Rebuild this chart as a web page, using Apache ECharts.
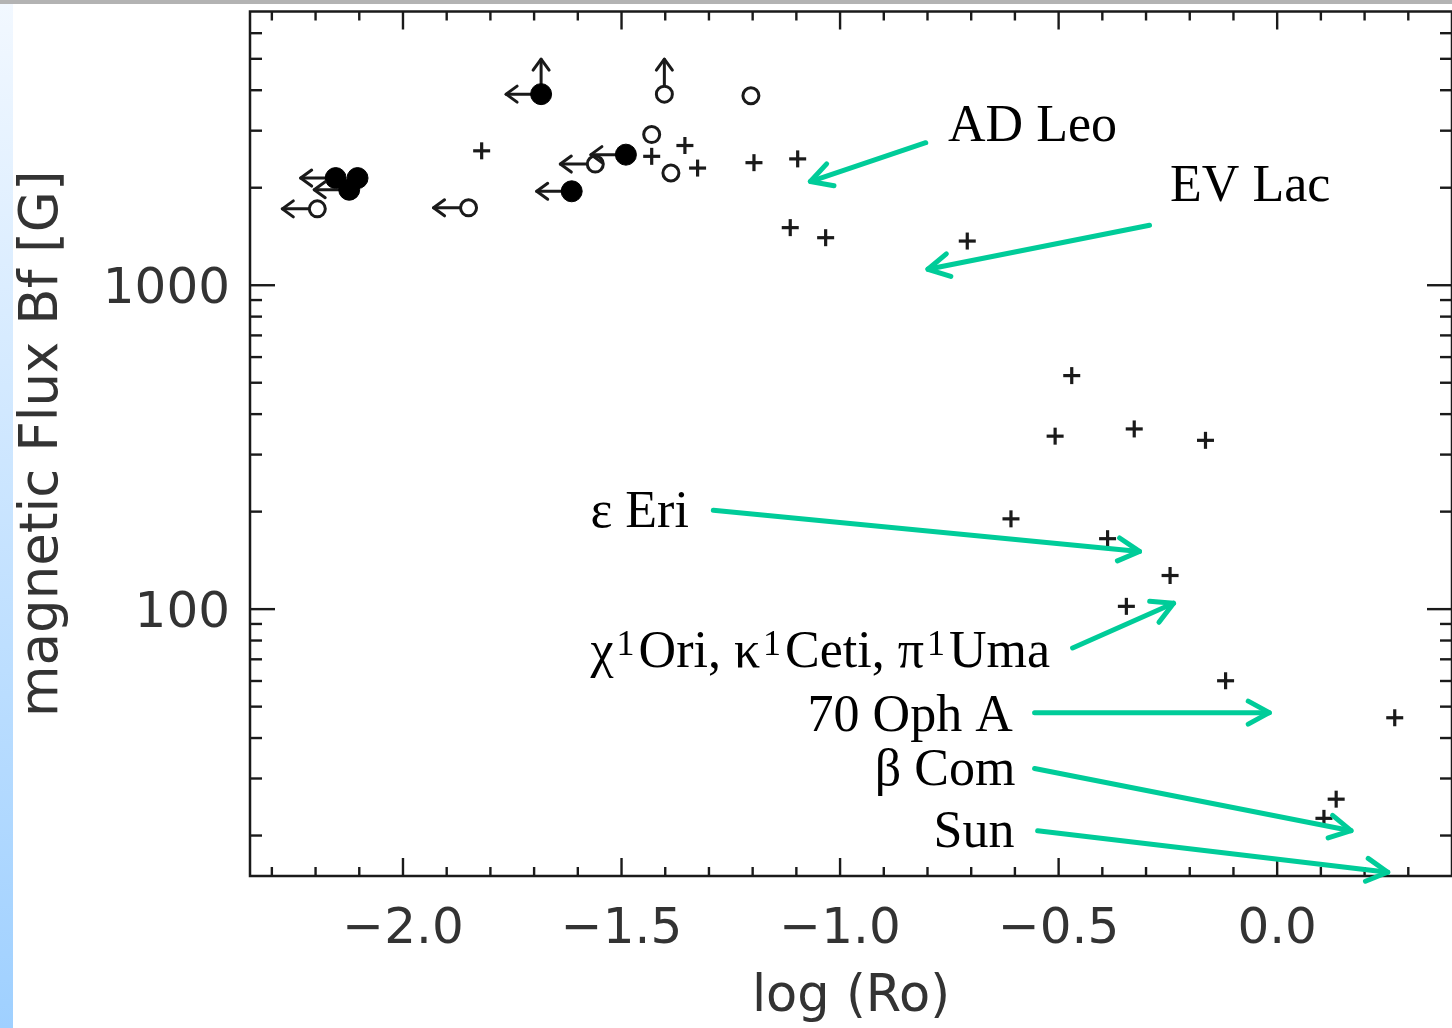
<!DOCTYPE html>
<html><head><meta charset="utf-8">
<script src="https://cdn.jsdelivr.net/npm/echarts@6/dist/echarts.min.js"></script>
<style>html,body{margin:0;padding:0;background:#fff;}#c{width:1452px;height:1028px;}</style>
</head><body><div id="c"></div>
<script>
// ---- data (log Ro, Bf [G]) ----
const plusData = [
  [-1.820,2600],[-1.431,2500],[-1.355,2700],[-1.326,2300],[-1.197,2390],[-1.097,2455],
  [-1.114,1506],[-1.033,1402],[-0.709,1369],[-0.470,526],[-0.508,342],[-0.327,360],
  [-0.164,332],[-0.609,190],[-0.388,165],[-0.245,127],[-0.345,102],[-0.118,60.1],
  [0.269,46.2],[0.135,25.9],[0.107,22.6]
];
const filledData = [[-1.684,3890],[-1.490,2530],[-1.614,1950],[-2.154,2142],[-2.104,2142],[-2.123,1972]];
const filledRoUpper = [1,1,1,1,0,1];
const filledBLower  = [1,0,0,0,0,0];
const openData = [[-1.402,3890],[-1.204,3846],[-1.431,2918],[-1.560,2366],[-1.387,2221],[-2.196,1721],[-1.850,1734]];
const openRoUpper = [0,0,0,1,0,1,1];
const openBLower  = [1,0,0,0,0,0,0];

const annoText  = ['AD Leo','EV Lac','ε Eri','χ¹Ori, κ¹Ceti, π¹Uma','70 Oph A','β Com','Sun'];
const annoPos   = [[-0.753,3062],[-0.245,2002],[-1.571,197.4],[-1.571,74.3],[-0.605,46.5],[-0.599,31.5],[-0.601,20.3]];
const annoAlign = ['left','left','left','left','right','right','right'];
const arrowFrom = [[-0.804,2754],[-0.292,1531],[-1.290,202],[-0.468,75.9],[-0.555,47.9],[-0.555,32.2],[-0.548,20.7]];
const arrowTo   = [[-1.068,2090],[-0.799,1120],[-0.315,150.7],[-0.237,104.3],[-0.018,47.9],[0.169,20.7],[0.253,15.4]];

const xRange = [-2.35, 0.4];
const yRange = [15, 7000];
const xTickLabels = [-2.0,-1.5,-1.0,-0.5,0.0];
const xMinorTicks = [-2.3,-2.2,-2.1,-1.9,-1.8,-1.7,-1.6,-1.4,-1.3,-1.2,-1.1,-0.9,-0.8,-0.7,-0.6,-0.4,-0.3,-0.2,-0.1,0.1,0.2,0.3];
const yTickLabels = [100,1000];
const yMinorTicks = [20,30,40,50,60,70,80,90,200,300,400,500,600,700,800,900,2000,3000,4000,5000,6000];

// ---- rendering ----
const INK = '#1a1a1a';
const GREEN = '#00CC99';
const SERIF = '"Liberation Serif"';
const tickData = [];
xTickLabels.forEach(v=>tickData.push([v, yRange[0], 0]));
xMinorTicks.forEach(v=>tickData.push([v, yRange[0], 1]));
yTickLabels.forEach(v=>tickData.push([xRange[0], v, 2]));
yMinorTicks.forEach(v=>tickData.push([xRange[0], v, 3]));

function tickItem(params, api){
  const cs = params.coordSys;
  const kind = api.value(2);
  const st = {stroke:INK, lineWidth:2.4};
  if (kind < 2){
    const x = api.coord([api.value(0), yRange[0]])[0];
    const L = kind===0 ? 18 : 9;
    return {type:'group', children:[
      {type:'line', shape:{x1:x,y1:cs.y+cs.height,x2:x,y2:cs.y+cs.height-L}, style:st},
      {type:'line', shape:{x1:x,y1:cs.y,x2:x,y2:cs.y+L}, style:st}
    ]};
  } else {
    const y = api.coord([xRange[0], api.value(1)])[1];
    const L = kind===2 ? 25 : 12;
    return {type:'group', children:[
      {type:'line', shape:{x1:cs.x,y1:y,x2:cs.x+L,y2:y}, style:st},
      {type:'line', shape:{x1:cs.x+cs.width,y1:y,x2:cs.x+cs.width-L,y2:y}, style:st}
    ]};
  }
}

function plusItem(params, api){
  const p = api.coord([api.value(0), api.value(1)]);
  const h = 8.5, st = {stroke:INK, lineWidth:3.2};
  return {type:'group', children:[
    {type:'line', shape:{x1:p[0]-h,y1:p[1],x2:p[0]+h,y2:p[1]}, style:st},
    {type:'line', shape:{x1:p[0],y1:p[1]-h,x2:p[0],y2:p[1]+h}, style:st}
  ]};
}

function circleRender(filled){
  return function(params, api){
    const p = api.coord([api.value(0), api.value(1)]);
    const r = filled ? 10.5 : 8;
    const st = {stroke:INK, lineWidth:3, fill:null, lineCap:'round', lineJoin:'round'};
    const ch = [];
    if (api.value(2)){
      const tx = p[0]-35;
      ch.push({type:'line', shape:{x1:p[0],y1:p[1],x2:tx,y2:p[1]}, style:st});
      ch.push({type:'polyline', shape:{points:[[tx+11,p[1]-8],[tx,p[1]],[tx+11,p[1]+8]]}, style:st});
    }
    if (api.value(3)){
      const ty = p[1]-35;
      ch.push({type:'line', shape:{x1:p[0],y1:p[1],x2:p[0],y2:ty}, style:st});
      ch.push({type:'polyline', shape:{points:[[p[0]-8,ty+11],[p[0],ty],[p[0]+8,ty+11]]}, style:st});
    }
    ch.push({type:'circle', shape:{cx:p[0],cy:p[1],r:r},
      style: filled ? {fill:'#000', stroke:'#000', lineWidth:1} : {fill:'#fff', stroke:INK, lineWidth:3}});
    return {type:'group', children:ch};
  };
}

function arrowItem(params, api){
  const a = api.coord([api.value(0), api.value(1)]);
  const b = api.coord([api.value(2), api.value(3)]);
  const ang = Math.atan2(b[1]-a[1], b[0]-a[0]);
  const L = 24, w = 0.50;
  const h1 = [b[0]-L*Math.cos(ang-w), b[1]-L*Math.sin(ang-w)];
  const h2 = [b[0]-L*Math.cos(ang+w), b[1]-L*Math.sin(ang+w)];
  const st = {stroke:GREEN, lineWidth:5, lineCap:'round', lineJoin:'round', fill:null};
  return {type:'group', children:[
    {type:'line', shape:{x1:a[0],y1:a[1],x2:b[0],y2:b[1]}, style:st},
    {type:'polyline', shape:{points:[h1,b,h2]}, style:st}
  ]};
}

function textItem(params, api){
  const i = params.dataIndex;
  const p = api.coord([api.value(0), api.value(1)]);
  const raw = annoText[i];
  const rich = raw.indexOf('¹') >= 0;
  const txt = rich ? raw.split('¹').map((s,k)=>(k>0?'{s|1}':'')+'{a|'+s+'}').join('') : raw;
  const style = {text:txt, x:p[0], y:p[1], fill:'#000',
    font:'52px ' + SERIF, align:annoAlign[i], verticalAlign:'middle'};
  if (rich){
    style.rich = {
      a:{fontFamily:'Liberation Serif', fontSize:52, color:'#000', lineHeight:56, verticalAlign:'bottom'},
      s:{fontFamily:'Liberation Serif', fontSize:36, color:'#000', lineHeight:56, verticalAlign:'bottom', padding:[0,4,15,3]}
    };
  }
  return {type:'text', style:style};
}

const fmtX = v => {
  const hit = xTickLabels.find(t=>Math.abs(t-v)<1e-6);
  if (hit===undefined) return '';
  return (hit<0?'\u2212':'') + Math.abs(hit).toFixed(1);
};
const fmtY = v => {
  const hit = yTickLabels.find(t=>Math.abs(t-v)/t<1e-4);
  return hit===undefined ? '' : '{v|' + hit + '}';
};

const AXFONT = '"DejaVu Sans"';
const chart = echarts.init(document.getElementById('c'), null, {renderer:'canvas'});
chart.setOption({
  animation:false,
  backgroundColor:'#fff',
  graphic:[
    {type:'rect', left:0, top:0, shape:{width:1452,height:4}, style:{fill:'#b3b3b3'}},
    {type:'rect', left:0, top:4, shape:{width:13,height:1024},
      style:{fill:new echarts.graphic.LinearGradient(0,0,0,1,[{offset:0,color:'#f2f8ff'},{offset:1,color:'#9fd0ff'}])}}
  ],
  grid:{left:250, top:11.5, right:-3, bottom:150, show:true, borderColor:INK, borderWidth:2.5, backgroundColor:'transparent'},
  xAxis:{type:'value', min:xRange[0], max:xRange[1],
    axisLine:{show:false}, axisTick:{show:false}, splitLine:{show:false},
    axisLabel:{formatter:fmtX, fontFamily:AXFONT, fontSize:50, color:'#333', margin:29, showMinLabel:false, showMaxLabel:false},
    name:'log (Ro)', nameLocation:'middle', nameGap:96,
    nameTextStyle:{fontFamily:AXFONT, fontSize:51, color:'#333'}},
  yAxis:{type:'log', logBase:10, min:yRange[0], max:yRange[1],
    axisLine:{show:false}, axisTick:{show:false}, splitLine:{show:false}, minorTick:{show:false},
    axisLabel:{formatter:fmtY, fontFamily:AXFONT, fontSize:50, color:'#333', margin:20,
      rich:{v:{fontFamily:'DejaVu Sans', fontSize:50, color:'#333', padding:[10,0,0,0]}}},
    name:'magnetic Flux Bf [G]', nameLocation:'middle', nameGap:180, nameRotate:90,
    nameTextStyle:{fontFamily:AXFONT, fontSize:53, color:'#333'}},
  series:[
    {type:'custom', renderItem:tickItem, data:tickData, silent:true, clip:false, z:1},
    {type:'custom', renderItem:plusItem, data:plusData, silent:true, z:3},
    {type:'custom', renderItem:circleRender(false), data:openData.map((d,i)=>[d[0],d[1],openRoUpper[i],openBLower[i]]), encode:{x:0,y:1}, silent:true, z:3},
    {type:'custom', renderItem:circleRender(true), data:filledData.map((d,i)=>[d[0],d[1],filledRoUpper[i],filledBLower[i]]), encode:{x:0,y:1}, silent:true, z:4},
    {type:'custom', renderItem:arrowItem, data:arrowFrom.map((d,i)=>[d[0],d[1],arrowTo[i][0],arrowTo[i][1]]), encode:{x:[0,2],y:[1,3]}, silent:true, clip:false, z:5},
    {type:'custom', renderItem:textItem, data:annoPos, silent:true, clip:false, z:5}
  ]
});
</script></body></html>
